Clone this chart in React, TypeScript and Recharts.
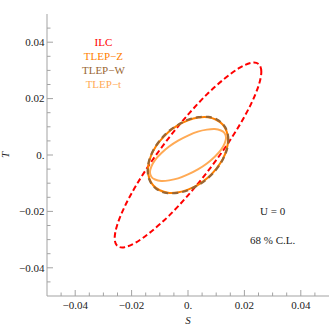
import {
  Label,
  Line,
  LineChart,
  ReferenceDot,
  XAxis,
  YAxis,
} from "recharts";

// S-T ellipses (68% C.L.), points read around each contour
const ILC_S = [0.026, 0.0251, 0.0225, 0.0184, 0.013, 0.0067, 0, -0.0067, -0.013, -0.0184, -0.0225, -0.0251, -0.026, -0.0251, -0.0225, -0.0184, -0.013, -0.0067, 0, 0.0067, 0.013, 0.0184, 0.0225, 0.0251];
const ILC_T = [0.0295, 0.0322, 0.0327, 0.031, 0.0271, 0.0215, 0.0143, 0.0062, -0.0024, -0.0108, -0.0184, -0.0248, -0.0295, -0.0322, -0.0327, -0.031, -0.0271, -0.0215, -0.0143, -0.0062, 0.0024, 0.0108, 0.0184, 0.0248];

const TLEP_Z_S = [0.0142, 0.0137, 0.0123, 0.01, 0.0071, 0.0037, 0, -0.0037, -0.0071, -0.01, -0.0123, -0.0137, -0.0142, -0.0137, -0.0123, -0.01, -0.0071, -0.0037, 0, 0.0037, 0.0071, 0.01, 0.0123, 0.0137];
const TLEP_Z_T = [0.0054, 0.0084, 0.0108, 0.0125, 0.0134, 0.0133, 0.0123, 0.0105, 0.008, 0.0049, 0.0015, -0.002, -0.0054, -0.0084, -0.0108, -0.0125, -0.0134, -0.0133, -0.0123, -0.0105, -0.008, -0.0049, -0.0015, 0.002];

const TLEP_W_S = [0.0143, 0.0138, 0.0124, 0.0101, 0.0072, 0.0037, 0, -0.0037, -0.0072, -0.0101, -0.0124, -0.0138, -0.0143, -0.0138, -0.0124, -0.0101, -0.0072, -0.0037, 0, 0.0037, 0.0072, 0.0101, 0.0124, 0.0138];
const TLEP_W_T = [0.0054, 0.0085, 0.0109, 0.0127, 0.0135, 0.0134, 0.0125, 0.0106, 0.0081, 0.005, 0.0015, -0.002, -0.0054, -0.0085, -0.0109, -0.0127, -0.0135, -0.0134, -0.0125, -0.0106, -0.0081, -0.005, -0.0015, 0.002];

const TLEP_T_S = [0.0135, 0.013, 0.0117, 0.0095, 0.0067, 0.0035, 0, -0.0035, -0.0067, -0.0095, -0.0117, -0.013, -0.0135, -0.013, -0.0117, -0.0095, -0.0067, -0.0035, 0, 0.0035, 0.0067, 0.0095, 0.0117, 0.013];
const TLEP_T_T = [0.0061, 0.0077, 0.0087, 0.0092, 0.009, 0.0083, 0.0069, 0.0051, 0.003, 0.0006, -0.0018, -0.0041, -0.0061, -0.0077, -0.0087, -0.0092, -0.009, -0.0083, -0.0069, -0.0051, -0.003, -0.0006, 0.0018, 0.0041];

const SERIES_NAMES = ["ILC", "TLEP\u2212Z", "TLEP\u2212W", "TLEP\u2212t"];
const SERIES_COLORS = ["#ff0000", "#ff8000", "#996633", "#ffaa55"];
// where the key text sits, in plot units
const KEY_S = -0.03;
const KEY_T = [0.04, 0.035, 0.03, 0.025];

const FRAME_TICKS = [-0.045, -0.04, -0.035, -0.03, -0.025, -0.02, -0.015, -0.01, -0.005, 0, 0.005, 0.01, 0.015, 0.02, 0.025, 0.03, 0.035, 0.04, 0.045];
const MAJOR_TICKS = [-0.04, -0.02, 0, 0.02, 0.04];
const TICK_LABELS = ["\u22120.04", "\u22120.02", "0.", "0.02", "0.04"];

const NOTE_TEXT = ["U = 0", "68 % C.L."];
const NOTE_S = [0.03, 0.03];
const NOTE_T = [-0.02, -0.03];

const FONT = '"Liberation Serif", "Times New Roman", serif';
const FRAME = "#a3a3a3";
const INK = "#222";

const toPoints = (s: number[], t: number[]) => s.map((v, i) => ({ s: v, t: t[i] }));

// closed Catmull-Rom so the contour passes through every read point
function closedCurve(context: any) {
  let pts: number[][] = [];
  return {
    areaStart() {},
    areaEnd() {},
    lineStart() {
      pts = [];
    },
    point(x: number, y: number) {
      pts.push([+x, +y]);
    },
    lineEnd() {
      const n = pts.length;
      if (!n) return;
      context.moveTo(pts[0][0], pts[0][1]);
      for (let i = 0; i < n; i++) {
        const p0 = pts[(i + n - 1) % n];
        const p1 = pts[i];
        const p2 = pts[(i + 1) % n];
        const p3 = pts[(i + 2) % n];
        context.bezierCurveTo(
          p1[0] + (p2[0] - p0[0]) / 6,
          p1[1] + (p2[1] - p0[1]) / 6,
          p2[0] - (p3[0] - p1[0]) / 6,
          p2[1] - (p3[1] - p1[1]) / 6,
          p2[0],
          p2[1]
        );
      }
      context.closePath();
    },
  };
}

type Side = "bottom" | "top" | "left" | "right";

function frameTick(side: Side) {
  return (props: any) => {
    const { x, y, payload } = props;
    const i = MAJOR_TICKS.findIndex((v) => Math.abs(v - payload.value) < 1e-9);
    const len = i >= 0 ? 6 : 3.5;
    let tick;
    if (side === "bottom") tick = <line x1={x} y1={y} x2={x} y2={y - len} />;
    else if (side === "top") tick = <line x1={x} y1={y} x2={x} y2={y + len} />;
    else if (side === "left") tick = <line x1={x} y1={y} x2={x + len} y2={y} />;
    else tick = <line x1={x} y1={y} x2={x - len} y2={y} />;
    return (
      <g>
        <g stroke={FRAME} strokeWidth={1}>{tick}</g>
        {i >= 0 && side === "bottom" && (
          <text x={x} y={y + 13} textAnchor="middle" fill={INK} fontSize={11} fontFamily={FONT}>
            {TICK_LABELS[i]}
          </text>
        )}
        {i >= 0 && side === "left" && (
          <text x={x - 2.5} y={y + 3.7} textAnchor="end" fill={INK} fontSize={11} fontFamily={FONT}>
            {TICK_LABELS[i]}
          </text>
        )}
      </g>
    );
  };
}

const axisCommon = {
  type: "number" as const,
  domain: [-0.05, 0.05],
  allowDataOverflow: true,
  ticks: FRAME_TICKS,
  interval: 0,
  tickLine: false,
  tickSize: 0,
  tickMargin: 0,
  axisLine: { stroke: FRAME },
};

const SERIES = [
  { s: ILC_S, t: ILC_T, width: 2, dash: "5.5 3" },
  { s: TLEP_Z_S, t: TLEP_Z_T, width: 2, dash: undefined },
  { s: TLEP_W_S, t: TLEP_W_T, width: 2.2, dash: "6 4" },
  { s: TLEP_T_S, t: TLEP_T_T, width: 2, dash: undefined },
];

export default function App() {
  return (
    <div style={{ position: "absolute", left: 0, top: 0, width: 332, height: 327, background: "#fff" }}>
      <LineChart width={332} height={327} margin={{ top: 14, right: 3, bottom: 0, left: 0 }}>
        <XAxis {...axisCommon} xAxisId="b" dataKey="s" orientation="bottom" height={31} tick={frameTick("bottom")}>
          <Label
            content={({ viewBox }: any) => (
              <text
                x={viewBox.x + viewBox.width / 2}
                y={viewBox.y + 28}
                textAnchor="middle"
                fill={INK}
                fontSize={11}
                fontStyle="italic"
                fontFamily={FONT}
              >
                S
              </text>
            )}
          />
        </XAxis>
        <XAxis {...axisCommon} xAxisId="t" dataKey="s" orientation="top" height={0} tick={frameTick("top")} />
        <YAxis {...axisCommon} yAxisId="l" dataKey="t" orientation="left" width={47} tick={frameTick("left")}>
          <Label
            content={({ viewBox }: any) => (
              <text
                transform={`translate(${viewBox.x + 9}, ${viewBox.y + viewBox.height / 2}) rotate(-90)`}
                textAnchor="middle"
                fill={INK}
                fontSize={11}
                fontStyle="italic"
                fontFamily={FONT}
              >
                T
              </text>
            )}
          />
        </YAxis>
        <YAxis {...axisCommon} yAxisId="r" dataKey="t" orientation="right" width={0} tick={frameTick("right")} />

        {SERIES.map((d, i) => (
          <Line
            key={SERIES_NAMES[i]}
            xAxisId="b"
            yAxisId="l"
            data={toPoints(d.s, d.t)}
            dataKey="t"
            name={SERIES_NAMES[i]}
            type={closedCurve as any}
            stroke={SERIES_COLORS[i]}
            strokeWidth={d.width}
            strokeDasharray={d.dash}
            dot={false}
            activeDot={false}
            isAnimationActive={false}
          />
        ))}

        {SERIES_NAMES.map((name, i) => (
          <ReferenceDot
            key={name}
            xAxisId="b"
            yAxisId="l"
            x={KEY_S}
            y={KEY_T[i]}
            r={0}
            fill="none"
            stroke="none"
            label={{ value: name, position: "center", fill: SERIES_COLORS[i], fontSize: 11, fontFamily: FONT }}
          />
        ))}

        {NOTE_TEXT.map((txt, i) => (
          <ReferenceDot
            key={txt}
            xAxisId="b"
            yAxisId="l"
            x={NOTE_S[i]}
            y={NOTE_T[i]}
            r={0}
            fill="none"
            stroke="none"
            label={{ value: txt, position: "center", fill: INK, fontSize: 11, fontFamily: FONT }}
          />
        ))}
      </LineChart>
    </div>
  );
}
